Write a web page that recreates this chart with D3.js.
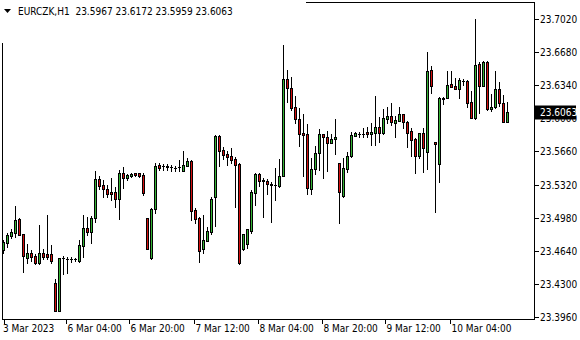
<!DOCTYPE html>
<html>
<head>
<meta charset="utf-8">
<script src="https://cdn.jsdelivr.net/npm/d3@7"></script>
<style>
  html, body { margin: 0; padding: 0; background: #fff; }
  svg text { font-family: "DejaVu Sans Condensed", "Liberation Sans", sans-serif; font-size: 10px; fill: #000; }
</style>
</head>
<body>
<div id="chart"></div>
<script>
// EURCZK H1 bars, 3 Mar 13:00 .. 10 Mar 19:00
var symbol = "EURCZK,H1";

var open = [
  23.4648, 23.4723, 23.4792, 23.4826, 23.4966, 23.4812, 23.4569, 23.4614, 23.4586, 23.4511,
  23.4614, 23.4607, 23.4604, 23.4306, 23.4025, 23.4563, 23.4553, 23.4553, 23.4553, 23.4538,
  23.4692, 23.4871, 23.4836, 23.4974, 23.5374, 23.5315, 23.5271, 23.5241, 23.5241, 23.5169,
  23.5436, 23.5390, 23.5408, 23.5436, 23.5436, 23.5418, 23.4974, 23.4563, 23.5066, 23.5521,
  23.5508, 23.5508, 23.5500, 23.5493, 23.5500, 23.5462, 23.5514, 23.5562, 23.5059, 23.4974,
  23.4655, 23.4744, 23.4836, 23.5195, 23.5819, 23.5675, 23.5634, 23.5613, 23.5582, 23.5531,
  23.4655, 23.4706, 23.4846, 23.5236, 23.5425, 23.5364, 23.5357, 23.5329, 23.5312, 23.5305,
  23.5408, 23.6401, 23.6308, 23.6113, 23.5990, 23.5846, 23.5836, 23.5271, 23.5477, 23.5647,
  23.5836, 23.5811, 23.5750, 23.5785, 23.5538, 23.5203, 23.5477, 23.5616, 23.5822, 23.5839,
  23.5839, 23.5857, 23.5836, 23.5853, 23.5914, 23.5846, 23.5993, 23.6027, 23.5955, 23.5976,
  23.6041, 23.5965, 23.5870, 23.5785, 23.5616, 23.5846, 23.5657, 23.6493, 23.5754, 23.5528,
  23.6212, 23.6212, 23.6353, 23.6332, 23.6304, 23.6383, 23.6383, 23.6165, 23.6000, 23.6558,
  23.6335, 23.6575, 23.6093, 23.6113, 23.6301, 23.6161, 23.5967
];
var high = [
  23.4751, 23.4823, 23.4864, 23.5100, 23.4977, 23.4817, 23.4710, 23.4645, 23.4607, 23.4905,
  23.4655, 23.5007, 23.4699, 23.4347, 23.4566, 23.4586, 23.4579, 23.4573, 23.4566, 23.4751,
  23.5007, 23.4990, 23.4997, 23.5459, 23.5408, 23.5367, 23.5315, 23.5384, 23.5298, 23.5470,
  23.5497, 23.5428, 23.5436, 23.5442, 23.5442, 23.5442, 23.4980, 23.5076, 23.5544, 23.5538,
  23.5528, 23.5528, 23.5518, 23.5514, 23.5572, 23.5665, 23.5596, 23.5572, 23.5076, 23.4984,
  23.5007, 23.4887, 23.5195, 23.5829, 23.5824, 23.5703, 23.5668, 23.5692, 23.5600, 23.5544,
  23.4812, 23.4864, 23.5264, 23.5436, 23.5436, 23.5384, 23.5374, 23.5349, 23.5493, 23.5579,
  23.6753, 23.6496, 23.6428, 23.6229, 23.6109, 23.6045, 23.5939, 23.5596, 23.5716, 23.5891,
  23.5839, 23.5870, 23.5836, 23.5990, 23.5544, 23.5596, 23.5657, 23.5863, 23.5857, 23.5863,
  23.5898, 23.5908, 23.5949, 23.6229, 23.6011, 23.6096, 23.6119, 23.6154, 23.6024, 23.6113,
  23.6045, 23.5973, 23.5898, 23.5801, 23.5849, 23.5898, 23.6678, 23.6537, 23.5757, 23.6216,
  23.6216, 23.6486, 23.6486, 23.6411, 23.6411, 23.6404, 23.6394, 23.6281, 23.7022, 23.6582,
  23.6589, 23.6589, 23.6250, 23.6486, 23.6376, 23.6240, 23.6172
];
var low = [
  23.4617, 23.4679, 23.4771, 23.4782, 23.4802, 23.4425, 23.4518, 23.4538, 23.4501, 23.4507,
  23.4553, 23.4553, 23.4515, 23.4022, 23.4022, 23.4399, 23.4415, 23.4528, 23.4532, 23.4528,
  23.4579, 23.4802, 23.4723, 23.4939, 23.5271, 23.5195, 23.5195, 23.5161, 23.5086, 23.4963,
  23.5282, 23.5367, 23.5395, 23.5408, 23.5401, 23.5213, 23.4655, 23.4556, 23.5031, 23.5470,
  23.5470, 23.5470, 23.5462, 23.5462, 23.5462, 23.5459, 23.5510, 23.4956, 23.4928, 23.4528,
  23.4614, 23.4740, 23.4812, 23.4894, 23.5510, 23.5579, 23.5521, 23.5538, 23.5093, 23.4507,
  23.4648, 23.4665, 23.4819, 23.5110, 23.5305, 23.4990, 23.5220, 23.4939, 23.5161, 23.5298,
  23.5403, 23.6171, 23.6086, 23.5955, 23.5716, 23.5411, 23.5220, 23.5220, 23.5425, 23.5470,
  23.5384, 23.5462, 23.5747, 23.5631, 23.4928, 23.5195, 23.5452, 23.5606, 23.5819, 23.5811,
  23.5805, 23.5805, 23.5726, 23.5726, 23.5760, 23.5844, 23.5949, 23.5932, 23.5811, 23.5973,
  23.5898, 23.5709, 23.5616, 23.5436, 23.5590, 23.5452, 23.5477, 23.6263, 23.5041, 23.5349,
  23.6147, 23.6209, 23.6325, 23.6304, 23.6212, 23.6345, 23.6119, 23.6007, 23.5993, 23.6058,
  23.6332, 23.6086, 23.6078, 23.6109, 23.6130, 23.5959, 23.5959
];
var close = [
  23.4730, 23.4802, 23.4833, 23.4956, 23.4805, 23.4589, 23.4614, 23.4579, 23.4511, 23.4614,
  23.4579, 23.4579, 23.4538, 23.4025, 23.4563, 23.4566, 23.4556, 23.4554, 23.4554, 23.4699,
  23.4871, 23.4836, 23.4974, 23.5374, 23.5308, 23.5271, 23.5223, 23.5220, 23.5169, 23.5436,
  23.5384, 23.5418, 23.5425, 23.5415, 23.5408, 23.5236, 23.4655, 23.5066, 23.5510, 23.5493,
  23.5507, 23.5504, 23.5501, 23.5494, 23.5497, 23.5521, 23.5562, 23.5052, 23.4963, 23.4641,
  23.4751, 23.4843, 23.5169, 23.5819, 23.5668, 23.5624, 23.5606, 23.5572, 23.5521, 23.4511,
  23.4809, 23.4860, 23.5241, 23.5425, 23.5360, 23.5360, 23.5326, 23.5312, 23.5313, 23.5408,
  23.6401, 23.6308, 23.6109, 23.5990, 23.5836, 23.5829, 23.5282, 23.5477, 23.5641, 23.5836,
  23.5811, 23.5744, 23.5785, 23.5811, 23.5247, 23.5487, 23.5613, 23.5829, 23.5846, 23.5840,
  23.5840, 23.5836, 23.5857, 23.5914, 23.5846, 23.6000, 23.6027, 23.5959, 23.5983, 23.6041,
  23.5965, 23.5853, 23.5778, 23.5616, 23.5846, 23.5692, 23.6486, 23.6335, 23.5740, 23.6206,
  23.6202, 23.6339, 23.6325, 23.6304, 23.6394, 23.6384, 23.6161, 23.6007, 23.6548, 23.6335,
  23.6582, 23.6096, 23.6119, 23.6301, 23.6161, 23.5966, 23.6063
];

// price scale tick values
var yTicks = [23.3960, 23.4300, 23.4640, 23.4980, 23.5320, 23.5660, 23.6000, 23.6340, 23.6680, 23.7020];

// time labels and the bar they belong to
var xTickBars = [0, 15, 31, 47, 63, 79, 95, 111];
var xTickLabels = ["3 Mar 2023", "6 Mar 04:00", "6 Mar 20:00", "7 Mar 12:00", "8 Mar 04:00", "8 Mar 20:00", "9 Mar 12:00", "10 Mar 04:00"];

var W = 580, H = 340;
var plot = { left: 2.5, top: 2.5, right: 534.5, bottom: 319.5 };
var upColor = "#34b334", downColor = "#d40f0f";

var svg = d3.select("#chart").append("svg")
    .attr("width", W)
    .attr("height", H);

var n = open.length;

// bar index -> pixel (4 px per bar)
var x = d3.scaleLinear().domain([0, n - 1]).range([3.5, 3.5 + 4 * (n - 1)]);
var y = d3.scaleLinear().domain([23.3960, 23.7020]).range([317, 19]);

function py(v) { return Math.round(y(v)) + 0.5; }

// chart frame
svg.append("rect")
    .attr("x", plot.left)
    .attr("y", plot.top)
    .attr("width", plot.right - plot.left)
    .attr("height", plot.bottom - plot.top)
    .attr("fill", "none")
    .attr("stroke", "#000")
    .attr("stroke-width", 1);

var bars = d3.range(n).map(function (i) {
    return { i: i, o: open[i], h: high[i], l: low[i], c: close[i] };
});

var g = svg.append("g").attr("shape-rendering", "crispEdges");

// wicks
g.selectAll("line.wick")
    .data(bars)
    .enter().append("line")
    .attr("class", "wick")
    .attr("x1", function (d) { return x(d.i); })
    .attr("x2", function (d) { return x(d.i); })
    .attr("y1", function (d) { return py(d.h) - 0.5; })
    .attr("y2", function (d) { return py(d.l) + 0.5; })
    .attr("stroke", "#000");

// bodies
bars.forEach(function (d) {
    var yt = py(Math.max(d.o, d.c)), yb = py(Math.min(d.o, d.c));
    var cx = x(d.i);
    if (yb - yt < 1) {
        g.append("line")
            .attr("x1", cx - 1.5).attr("x2", cx + 1.5)
            .attr("y1", yt).attr("y2", yt)
            .attr("stroke", "#000");
    } else {
        g.append("rect")
            .attr("x", cx - 1)
            .attr("y", yt)
            .attr("width", 2)
            .attr("height", yb - yt)
            .attr("fill", d.c >= d.o ? upColor : downColor)
            .attr("stroke", "#000")
            .attr("stroke-width", 1);
    }
});

// price axis on the right
var yAxis = svg.append("g");
yTicks.forEach(function (v) {
    yAxis.append("line")
        .attr("x1", plot.right).attr("x2", plot.right + 4)
        .attr("y1", py(v)).attr("y2", py(v))
        .attr("stroke", "#000")
        .attr("shape-rendering", "crispEdges");
    yAxis.append("text")
        .attr("x", 540)
        .attr("y", py(v))
        .attr("dy", "0.35em")
        .text(v.toFixed(4));
});

// last price marker
var last = close[n - 1];
svg.append("rect")
    .attr("x", plot.right + 0.5)
    .attr("y", py(last) - 7)
    .attr("width", 41)
    .attr("height", 14)
    .attr("fill", "#000");
svg.append("text")
    .attr("x", 540)
    .attr("y", py(last))
    .attr("dy", "0.35em")
    .style("fill", "#fff")
    .text(last.toFixed(4));

// time axis
var xAxis = svg.append("g");
xTickBars.forEach(function (b, k) {
    var tx = Math.round(x(b)) + (k === 0 ? 0 : 2) + 0.5;
    xAxis.append("line")
        .attr("x1", tx).attr("x2", tx)
        .attr("y1", plot.bottom).attr("y2", plot.bottom + 4)
        .attr("stroke", "#000")
        .attr("shape-rendering", "crispEdges");
    xAxis.append("text")
        .attr("x", k === 0 ? 3 : tx + 1)
        .attr("y", 332)
        .text(xTickLabels[k]);
});

// symbol header (covers the frame corner like the terminal does)
svg.append("rect")
    .attr("x", 0).attr("y", 0)
    .attr("width", 306).attr("height", 43)
    .attr("fill", "#fff");
svg.append("path")
    .attr("d", "M4,9 L11,9 L7.5,13 Z")
    .attr("fill", "#000");
svg.append("text")
    .attr("x", 18)
    .attr("y", 15)
    .attr("xml:space", "preserve")
    .style("white-space", "pre")
    .text(symbol + "  " + [open[n - 1], high[n - 1], low[n - 1], close[n - 1]].map(function (v) { return v.toFixed(4); }).join(" "));
</script>
</body>
</html>
